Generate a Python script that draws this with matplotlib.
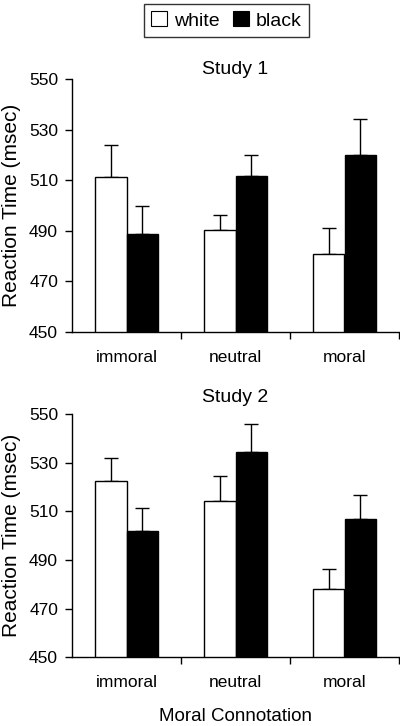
import numpy as np
import matplotlib
matplotlib.use("Agg")
import matplotlib.pyplot as plt
from matplotlib.patches import Patch

plt.rcParams['font.family'] = ['Liberation Sans', 'DejaVu Sans']

categories = ["immoral", "neutral", "moral"]
groups = ["white", "black"]

# Study 1 means and upper error bars (msec)
s1_white = [511.2, 490.4, 480.7]
s1_black = [488.7, 511.7, 520.1]
s1_white_err = [12.8, 5.9, 10.3]
s1_black_err = [11.2, 8.3, 14.2]

# Study 2
s2_white = [522.4, 514.1, 478.2]
s2_black = [501.9, 534.4, 507.0]
s2_white_err = [9.5, 10.3, 7.9]
s2_black_err = [9.6, 11.3, 9.5]

yticks = [450, 470, 490, 510, 530, 550]

fig = plt.figure(figsize=(4.0, 7.26), dpi=100)
ax1 = fig.add_axes([0.18, 0.5427, 0.8175, 0.3478])
ax2 = fig.add_axes([0.18, 0.0946, 0.8175, 0.3352])

width = 0.285
x = np.arange(len(categories))


def draw(ax, white, black, werr, berr, title, title_pad):
    ax.bar(x - width / 2, white, width, color="white", edgecolor="black", linewidth=1, zorder=2)
    ax.bar(x + width / 2, black, width, color="black", edgecolor="black", linewidth=1, zorder=2)
    ax.errorbar(x - width / 2, white, yerr=[np.zeros(3), werr], fmt="none", ecolor="black",
                elinewidth=1, capsize=5, capthick=1, zorder=1)
    ax.errorbar(x + width / 2, black, yerr=[np.zeros(3), berr], fmt="none", ecolor="black",
                elinewidth=1, capsize=5, capthick=1, zorder=1)
    ax.set_ylim(450, 550)
    ax.set_xlim(-0.5, 2.5)
    ax.set_yticks(yticks)
    ax.tick_params(axis="y", labelsize=12.5, length=5, width=1, direction="out", pad=5)
    ax.set_xticks(x)
    ax.set_xticklabels(categories, fontsize=12.5)
    ax.tick_params(axis="x", which="major", length=0, pad=13)
    ax.set_xticks([0.5, 1.5, 2.5], minor=True)
    ax.tick_params(axis="x", which="minor", length=5, width=1, direction="out")
    for s in ["top", "right"]:
        ax.spines[s].set_visible(False)
    ax.spines["left"].set_linewidth(1)
    ax.spines["bottom"].set_linewidth(1)
    ax.set_ylabel("Reaction Time (msec)", fontsize=15)
    ax.yaxis.set_label_coords(-0.155, 0.5)
    ax.set_title(title, fontsize=14, pad=title_pad)


draw(ax1, s1_white, s1_black, s1_white_err, s1_black_err, "Study 1", 4)
draw(ax2, s2_white, s2_black, s2_white_err, s2_black_err, "Study 2", 8.5)
ax2.set_xlabel("Moral Connotation", fontsize=13.5, labelpad=12.5)

handles = [Patch(facecolor="white", edgecolor="black", linewidth=0.8),
           Patch(facecolor="black", edgecolor="black", linewidth=0.8)]
leg = fig.legend(handles, groups, loc="upper center", bbox_to_anchor=(0.566, 0.995), ncol=2,
                 fontsize=14, frameon=True, fancybox=False, edgecolor="black",
                 handlelength=0.8, handleheight=0.8, handletextpad=0.35, columnspacing=0.7,
                 borderpad=0.4, borderaxespad=0)
leg.get_frame().set_linewidth(1)

fig.savefig("out.png", dpi=100)
